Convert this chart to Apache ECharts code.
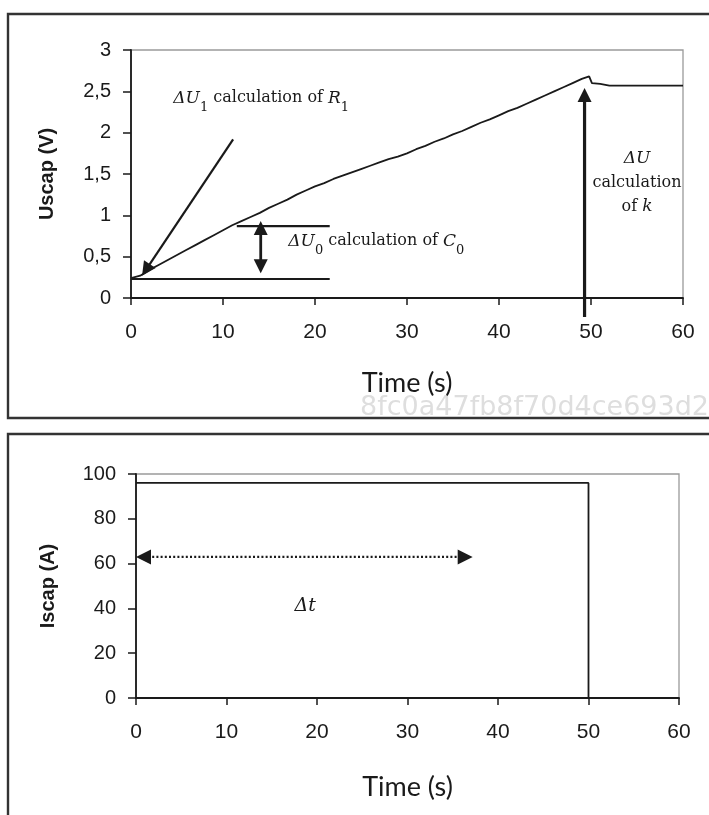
<!DOCTYPE html>
<html>
<head>
<meta charset="utf-8">
<script src="https://cdn.jsdelivr.net/npm/echarts@6/dist/echarts.min.js"></script>
<style>
  html, body { margin: 0; padding: 0; background: #fff; }
  #chart { width: 709px; height: 815px; }
</style>
</head>
<body>
<div id="chart"></div>
<script>
// Supercapacitor voltage during a constant-current charge (s, V)
const timeU = [0, 1, 2, 3, 4, 5, 6, 7, 8, 9, 10, 11, 12, 13, 14, 15, 16, 17, 18, 19,
  20, 21, 22, 23, 24, 25, 26, 27, 28, 29, 30, 31, 32, 33, 34, 35, 36, 37, 38, 39,
  40, 41, 42, 43, 44, 45, 46, 47, 48, 49, 49.8, 50.1, 51, 52, 60];
const uscap = [0.24, 0.27, 0.34, 0.40, 0.46, 0.52, 0.58, 0.64, 0.70, 0.76, 0.82, 0.88, 0.93, 0.98, 1.03, 1.09, 1.14, 1.19, 1.25, 1.30,
  1.35, 1.39, 1.44, 1.48, 1.52, 1.56, 1.60, 1.64, 1.68, 1.71, 1.75, 1.80, 1.84, 1.89, 1.93, 1.98, 2.02, 2.07, 2.12, 2.16,
  2.21, 2.26, 2.30, 2.35, 2.40, 2.45, 2.50, 2.55, 2.60, 2.65, 2.68, 2.60, 2.59, 2.57, 2.57];

// Charging current (s, A)
const timeI = [0, 50, 50, 60];
const iscap = [96, 96, 0, 0];

// Axis ranges: [min, max, interval]
const timeRange = [0, 60, 10];
const uRange = [0, 3, 0.5];
const iRange = [0, 100, 20];

// Construction lines on the voltage plot: [x1, y1, x2, y2, head at start, head at end]
const uGuides = [
  [11.1, 1.92, 1.2, 0.27, 0, 1],
  [0, 0.23, 21.6, 0.23, 0, 0],
  [11.5, 0.87, 21.6, 0.87, 0, 0],
  [14.1, 0.30, 14.1, 0.93, 1, 1],
  [49.3, -0.23, 49.3, 2.54, 0, 1]
];
// Text anchors on the voltage plot: [x, y]
const uNotePos = [[4.6, 2.37], [17.1, 0.64], [55.0, 1.35]];
const uNoteText = [
  '{i|ΔU}{s|1}{r| calculation of }{i|R}{s|1}',
  '{i|ΔU}{s|0}{r| calculation of }{i|C}{s|0}',
  '{i|ΔU}\n{r|calculation}\n{r|of }{i|k}'
];

// Duration arrow on the current plot
const iGuides = [[0, 63, 37.2, 63, 1, 1]];
const iNotePos = [[18.7, 41]];
const iNoteText = ['{t|Δt}'];

const guideWidths = [2.2, 2.2, 2.2, 2.8, 3.2];

const serif = '"DejaVu Serif", "Liberation Serif", serif';
const ink = '#1a1a1a';
const richStyles = {
  i: { fontFamily: serif, fontStyle: 'italic', fontSize: 17, lineHeight: 24, verticalAlign: 'top', fill: ink },
  r: { fontFamily: serif, fontSize: 16, lineHeight: 24, verticalAlign: 'top', fill: ink },
  s: { fontFamily: serif, fontSize: 13, lineHeight: 13, verticalAlign: 'bottom', fill: ink },
  t: { fontFamily: serif, fontStyle: 'italic', fontSize: 19, lineHeight: 24, fill: ink }
};

function headShape(tip, ux, uy, len, wid) {
  const bx = tip[0] - ux * len, by = tip[1] - uy * len;
  const px = -uy * wid / 2, py = ux * wid / 2;
  return {
    type: 'polygon',
    shape: { points: [tip, [bx + px, by + py], [bx - px, by - py]] },
    style: { fill: ink }
  };
}

function guideRenderer(widths, headLen, headWid, dotted) {
  return function (params, api) {
    const p1 = api.coord([api.value(0), api.value(1)]);
    const p2 = api.coord([api.value(2), api.value(3)]);
    const dx = p2[0] - p1[0], dy = p2[1] - p1[1];
    const len = Math.hypot(dx, dy);
    const ux = dx / len, uy = dy / len;
    const w = widths[params.dataIndex] || 2;
    const s = p1.slice(), e = p2.slice();
    const children = [];
    if (api.value(4)) {
      children.push(headShape(p1, -ux, -uy, headLen, headWid));
      s[0] += ux * headLen * 0.8; s[1] += uy * headLen * 0.8;
    }
    if (api.value(5)) {
      children.push(headShape(p2, ux, uy, headLen, headWid));
      e[0] -= ux * headLen * 0.8; e[1] -= uy * headLen * 0.8;
    }
    children.unshift({
      type: 'line',
      shape: { x1: s[0], y1: s[1], x2: e[0], y2: e[1] },
      style: { stroke: ink, lineWidth: w, lineDash: dotted ? [2, 2.2] : null }
    });
    return { type: 'group', children: children };
  };
}

function noteRenderer(texts, align) {
  return function (params, api) {
    const p = api.coord([api.value(0), api.value(1)]);
    return {
      type: 'text',
      style: {
        text: texts[params.dataIndex],
        x: p[0], y: p[1],
        align: align[params.dataIndex],
        verticalAlign: 'middle',
        rich: richStyles
      }
    };
  };
}

const fmtComma = v => String(v).replace('.', ',');
const sansFont = '"Liberation Sans", Arial, sans-serif';
const titleFont = 'Lato, "Open Sans", sans-serif';

function xAxisCfg(gridIndex, gap) {
  return {
    gridIndex: gridIndex, type: 'value',
    min: timeRange[0], max: timeRange[1], interval: timeRange[2],
    name: 'Time (s)', nameLocation: 'middle', nameGap: gap,
    nameTextStyle: { fontFamily: titleFont, fontSize: 27, color: ink },
    axisLine: { lineStyle: { color: ink, width: 1.8 } },
    axisTick: { inside: false, length: 7, lineStyle: { color: ink, width: 1.5 } },
    axisLabel: { margin: 24, fontFamily: sansFont, fontSize: 21, color: ink },
    splitLine: { show: false }
  };
}

function yAxisCfg(gridIndex, range, name, gap, fmt) {
  return {
    gridIndex: gridIndex, type: 'value',
    min: range[0], max: range[1], interval: range[2],
    name: name, nameLocation: 'middle', nameGap: gap,
    nameTextStyle: { fontFamily: sansFont, fontWeight: 'bold', fontSize: 20, color: ink },
    axisLine: { show: true, lineStyle: { color: ink, width: 1.8 } },
    axisTick: { show: true, inside: false, length: 8, lineStyle: { color: ink, width: 1.5 } },
    axisLabel: { margin: 20, fontFamily: sansFont, fontSize: 20, color: ink, formatter: fmt },
    splitLine: { show: false }
  };
}

const chart = echarts.init(document.getElementById('chart'), null, { renderer: 'canvas' });
chart.setOption({
  animation: false,
  backgroundColor: '#fff',
  graphic: [
    { type: 'rect', shape: { x: 8, y: 14, width: 712, height: 404 },
      style: { fill: 'none', stroke: '#333', lineWidth: 2.4 }, z: -1 },
    { type: 'rect', shape: { x: 8, y: 434, width: 712, height: 400 },
      style: { fill: 'none', stroke: '#333', lineWidth: 2.4 }, z: -1 },
    { type: 'text', right: 0, top: 394, z: -1,
      style: { text: '8fc0a47fb8f70d4ce693d2', font: '27px "DejaVu Sans", sans-serif', fill: '#dedede' } }
  ],
  grid: [
    { left: 131, right: 26, top: 50, height: 248, show: true, borderColor: '#9a9a9a', borderWidth: 1.3 },
    { left: 136, right: 30, top: 474, height: 224, show: true, borderColor: '#9a9a9a', borderWidth: 1.3 }
  ],
  xAxis: [xAxisCfg(0, 72), xAxisCfg(1, 76)],
  yAxis: [
    yAxisCfg(0, uRange, 'Uscap (V)', 74, fmtComma),
    yAxisCfg(1, iRange, 'Iscap (A)', 78, v => String(v))
  ],
  series: [
    {
      type: 'line', xAxisIndex: 0, yAxisIndex: 0,
      data: timeU.map((t, k) => [t, uscap[k]]),
      showSymbol: false, silent: true,
      lineStyle: { color: ink, width: 1.8 }
    },
    {
      type: 'line', xAxisIndex: 1, yAxisIndex: 1,
      data: timeI.map((t, k) => [t, iscap[k]]),
      showSymbol: false, silent: true,
      lineStyle: { color: ink, width: 1.8 }
    },
    {
      type: 'custom', xAxisIndex: 0, yAxisIndex: 0, silent: true, clip: false,
      renderItem: guideRenderer(guideWidths, 14, 14, false),
      data: uGuides, z: 3
    },
    {
      type: 'custom', xAxisIndex: 0, yAxisIndex: 0, silent: true, clip: false,
      renderItem: noteRenderer(uNoteText, ['left', 'left', 'center']),
      data: uNotePos, z: 4
    },
    {
      type: 'custom', xAxisIndex: 1, yAxisIndex: 1, silent: true, clip: false,
      renderItem: guideRenderer([2.4], 15, 15, true),
      data: iGuides, z: 3
    },
    {
      type: 'custom', xAxisIndex: 1, yAxisIndex: 1, silent: true, clip: false,
      renderItem: noteRenderer(iNoteText, ['center']),
      data: iNotePos, z: 4
    }
  ]
});
</script>
</body>
</html>
